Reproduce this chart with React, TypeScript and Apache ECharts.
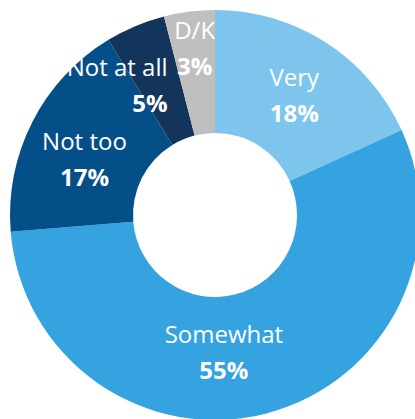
import React, { useEffect, useRef } from "react";
import * as echarts from "echarts";

const categories = ["Very", "Somewhat", "Not too", "Not at all", "D/K"];
const sliceValues = [18.2, 55.5, 17.6, 4.7, 4.0];
// Percentages printed on the chart
const labelPercents = [18, 55, 17, 5, 3];

const colors = ["#7DC5EC", "#34A3E0", "#054F89", "#13355C", "#BFBFBF"];
// label nudges [dx, dy] and line alignment per slice (layout only)
const labelNudges: [number, number][] = [
  [0, 3],
  [-28, -5],
  [0, 10],
  [-41, 4],
  [-2, -22],
];
const labelRightAligned = [false, false, false, true, false];

export default function App() {
  const ref = useRef<HTMLDivElement>(null);
  useEffect(() => {
    if (!ref.current) return;
    const chart = echarts.init(ref.current, undefined, { renderer: "svg" });
    const data = categories.map((name, i) => {
      const n = labelRightAligned[i] ? "nr" : "n";
      const p = labelRightAligned[i] ? "pr" : "p";
      return {
        name,
        value: sliceValues[i],
        itemStyle: { color: colors[i] },
        label: {
          formatter: `{${n}|${name}}\n{${p}|${labelPercents[i]}%}`,
        },
      };
    });
    const nameStyle = {
      fontFamily: "Open Sans",
      fontSize: 24,
      color: "#ffffff",
      lineHeight: 36,
    };
    const pctStyle = { ...nameStyle, fontWeight: "bold" };
    chart.setOption({
      animation: false,
      backgroundColor: "#ffffff",
      series: [
        {
          type: "pie",
          center: [215, 215],
          radius: [82, 205],
          startAngle: 90,
          clockwise: true,
          silent: true,
          avoidLabelOverlap: false,
          itemStyle: { borderWidth: 0 },
          label: {
            show: true,
            position: "inside",
            color: "#ffffff",
            rich: {
              n: nameStyle,
              p: pctStyle,
              nr: { ...nameStyle, align: "right" },
              pr: { ...pctStyle, align: "right" },
            },
          },
          labelLine: { show: false },
          labelLayout: (params: any) => {
            const [dx, dy] = labelNudges[params.dataIndex];
            return { dx, dy };
          },
          data,
        },
      ],
    });
    return () => chart.dispose();
  }, []);
  return (
    <div
      ref={ref}
      style={{ position: "fixed", left: 0, top: 0, width: 415, height: 419 }}
    />
  );
}
